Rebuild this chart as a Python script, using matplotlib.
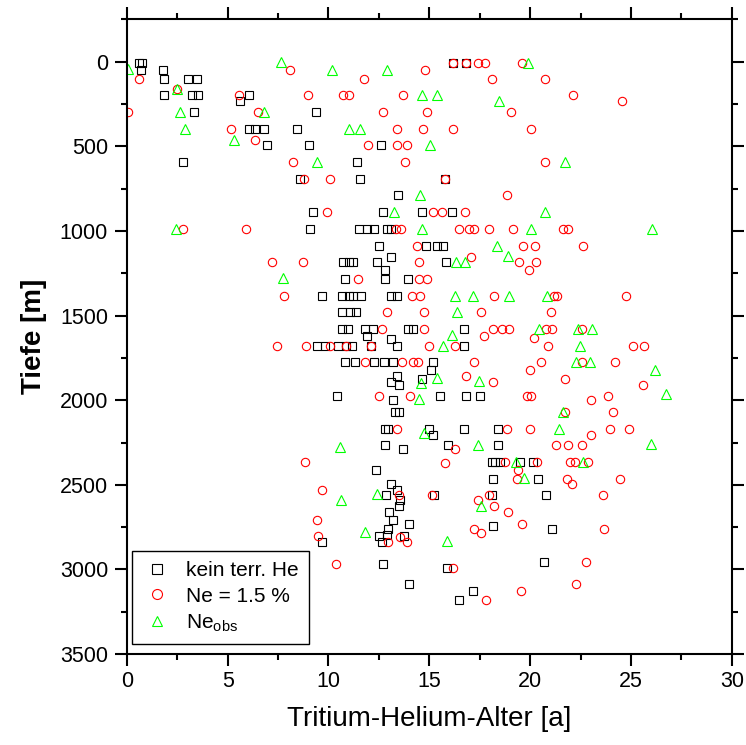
# -*- coding: utf-8 -*-
"""
Tritium-Helium-Alter über Tiefe, drei Auswerteansätze
"""
import matplotlib
matplotlib.use('Agg')
import matplotlib.pyplot as plt
from matplotlib.ticker import MultipleLocator

matplotlib.rcParams['font.family'] = ['Liberation Sans', 'DejaVu Sans']
matplotlib.rcParams['mathtext.fontset'] = 'custom'
matplotlib.rcParams['mathtext.rm'] = 'Liberation Sans'

# --- kein terrigenes He (Quadrate) ---
kein_alter = [
    0.61, 0.77, 0.69, 1.78, 1.83, 3.02, 3.50, 1.83, 3.22, 3.55, 3.34, 6.08,
    5.62, 9.39, 6.08, 6.36, 6.81, 8.44, 6.96, 9.05, 2.81, 8.61, 9.22, 9.09,
    16.16, 16.81, 12.59, 11.43, 11.55, 15.78, 13.45, 12.72, 14.66, 16.11,
    11.53, 11.90, 12.28, 12.89, 13.09,
    12.51, 14.84, 15.37, 15.70,
    10.74, 11.04, 11.24, 12.41, 13.11, 15.83, 12.81,
    10.82, 12.81, 13.93,
    9.67, 10.66, 11.04, 11.24, 11.60, 13.09, 13.42,
    10.66, 11.07, 11.37,
    10.66, 10.99, 11.81, 12.23, 13.96, 14.18, 16.72, 11.91, 13.11,
    9.42, 9.83, 10.49, 10.87, 11.15, 12.11, 13.39, 16.74,
    10.82, 11.32, 12.28, 12.73, 13.19, 15.20,
    13.42, 14.66, 15.09, 13.09, 13.52,
    10.40, 15.53, 16.81, 17.52, 13.19,
    13.30, 13.52,
    12.81, 12.97, 14.96, 16.74, 18.43, 15.20,
    12.81, 13.71, 15.95, 18.43,
    18.10, 18.26, 18.51, 19.50, 20.13,
    12.36, 18.18, 20.41,
    13.09, 13.39, 12.84, 13.55, 13.52, 13.02, 13.19, 14.01, 15.24, 18.10, 20.79,
    12.95, 12.92, 12.49, 12.65, 9.66, 13.75, 18.14, 21.07,
    12.69, 15.87, 14.01, 17.19, 16.48, 20.71,
]
kein_tiefe = [
    8, 8, 47, 47, 100, 100, 100, 199, 199, 199, 297, 199,
    230, 297, 396, 396, 396, 396, 494, 494, 592, 691, 888, 988,
    8, 8, 494, 592, 691, 691, 789, 888, 888, 888,
    988, 988, 988, 988, 988,
    1087, 1087, 1087, 1087,
    1185, 1185, 1185, 1185, 1156, 1185, 1233,
    1284, 1284, 1284,
    1382, 1382, 1382, 1382, 1382, 1382, 1382,
    1481, 1481, 1481,
    1579, 1579, 1579, 1579, 1579, 1579, 1579, 1618, 1638,
    1677, 1677, 1677, 1677, 1677, 1677, 1677, 1677,
    1776, 1776, 1776, 1776, 1776, 1776,
    1859, 1874, 1823, 1892, 1908,
    1973, 1973, 1973, 1973, 1997,
    2071, 2071,
    2170, 2170, 2170, 2170, 2170, 2203,
    2266, 2286, 2266, 2266,
    2364, 2364, 2364, 2364, 2364,
    2414, 2463, 2463,
    2493, 2532, 2562, 2591, 2626, 2660, 2709, 2729, 2560, 2562, 2562,
    2759, 2794, 2804, 2837, 2837, 2804, 2745, 2759,
    2967, 2991, 3085, 3129, 3179, 2955,
]

# --- Ne = 1.5 % (Kreise) ---
ne15_alter = [
    0.61, 0.08, 2.48, 5.55, 6.48, 5.16, 6.35, 8.10, 8.96, 8.25, 8.81, 10.06,
    9.93, 2.78, 5.92,
    16.16, 16.81, 17.43, 17.76, 19.60, 14.80, 11.77, 18.11, 10.74, 11.04,
    13.71, 12.72, 14.90, 19.04, 13.38, 14.67, 16.16, 20.03, 11.98, 13.42,
    13.88, 13.78, 18.87, 15.20, 15.62, 16.79, 15.78,
    20.72, 22.13, 24.56, 20.75,
    7.19, 8.74, 7.77, 7.47, 8.89, 10.08,
    13.35, 13.58, 16.46, 16.99, 17.22, 17.98, 19.14, 21.65, 21.86,
    14.41, 19.65, 20.25, 22.64,
    14.51, 17.05, 19.47, 20.30, 19.94,
    11.45, 14.49, 14.87,
    14.16, 14.54, 18.21, 21.20, 21.35, 24.76,
    12.92, 14.76, 17.57, 21.04,
    12.66, 14.76, 18.14, 18.59, 18.97, 17.72, 20.20, 20.77, 21.10, 22.56,
    12.11, 14.99, 16.28, 10.87, 20.90, 25.11, 25.66,
    11.82, 13.63, 14.21, 14.43, 17.22, 20.00, 20.54, 22.56, 24.21,
    16.81, 18.18, 21.73, 25.62,
    12.52, 14.05, 19.85, 20.05, 23.00, 23.85,
    24.13, 21.72,
    13.39, 18.87, 19.98, 23.02, 23.96, 24.91,
    16.28, 21.27, 21.90, 22.59,
    15.80, 18.73, 20.33, 22.00, 22.23, 22.85, 8.86,
    19.42, 19.34, 21.81, 22.06, 24.47,
    9.70, 13.52, 15.12, 17.40, 17.98, 18.23, 18.89, 19.62, 23.62,
    9.44, 9.49, 10.35,
    12.96, 13.57, 13.91, 17.24, 17.55, 23.67,
    16.17, 17.83, 19.55, 22.76, 22.29,
]
ne15_tiefe = [
    100, 297, 160, 199, 297, 396, 461, 51, 199, 592, 691, 691,
    888, 988, 988,
    8, 8, 8, 8, 8, 47, 100, 100, 199, 199,
    199, 297, 297, 297, 396, 396, 396, 396, 494, 494,
    494, 592, 789, 888, 888, 888, 691,
    100, 199, 230, 592,
    1185, 1185, 1382, 1677, 1677, 1677,
    988, 988, 988, 988, 988, 988, 988, 988, 988,
    1087, 1087, 1087, 1087,
    1185, 1156, 1185, 1185, 1233,
    1284, 1284, 1284,
    1382, 1382, 1382, 1382, 1382, 1382,
    1481, 1481, 1481, 1481,
    1579, 1579, 1579, 1579, 1579, 1618, 1635, 1579, 1579, 1579,
    1677, 1677, 1677, 1677, 1677, 1677, 1677,
    1776, 1776, 1776, 1776, 1776, 1823, 1776, 1776, 1776,
    1856, 1892, 1872, 1908,
    1973, 1973, 1973, 1973, 1997, 1973,
    2071, 2071,
    2170, 2170, 2170, 2203, 2170, 2170,
    2286, 2266, 2266, 2266,
    2372, 2364, 2364, 2364, 2364, 2364, 2364,
    2414, 2463, 2463, 2493, 2463,
    2532, 2562, 2560, 2591, 2562, 2625, 2660, 2729, 2562,
    2707, 2804, 2967,
    2837, 2808, 2837, 2759, 2784, 2759,
    2991, 3179, 3129, 2955, 3085,
]

# --- Ne beobachtet (Dreiecke) ---
neobs_alter = [
    0.08, 2.48, 2.66, 2.89, 5.29, 6.81, 7.64, 10.18, 9.44, 2.44,
    12.89, 19.90, 14.66, 15.37, 18.46, 11.01, 11.57, 15.05, 14.56, 13.25,
    21.73, 20.74, 7.75,
    14.66, 20.05, 26.03, 18.34,
    16.33, 16.77, 18.89,
    16.28, 17.15, 18.97, 20.82, 16.36,
    16.11, 20.44, 22.36, 23.09,
    15.70, 22.48,
    22.26, 22.99, 26.19,
    14.61, 15.37, 17.46,
    14.50, 26.72, 21.65,
    14.76, 21.45,
    10.57, 17.39, 26.00,
    19.28, 22.61, 19.70,
    12.43, 10.61, 17.55,
    11.82, 15.87,
]
neobs_tiefe = [
    43, 160, 297, 396, 461, 297, 3, 47, 592, 988,
    47, 8, 199, 199, 230, 396, 396, 494, 789, 888,
    592, 888, 1280,
    988, 988, 988, 1087,
    1185, 1185, 1146,
    1382, 1382, 1382, 1382, 1481,
    1612, 1579, 1579, 1579,
    1677, 1677,
    1776, 1776, 1819,
    1900, 1870, 1886,
    1991, 1965, 2071,
    2196, 2170,
    2278, 2266, 2258,
    2364, 2364, 2459,
    2552, 2587, 2623,
    2780, 2833,
]

fig = plt.figure(figsize=(7.46, 7.45), dpi=100)
ax = fig.add_axes([0.170, 0.122, 0.811, 0.852])

ax.plot(kein_alter, kein_tiefe, linestyle='none', marker='s', ms=5.6,
        mfc='none', mec='black', mew=0.8, label='kein terr. He')
ax.plot(ne15_alter, ne15_tiefe, linestyle='none', marker='o', ms=6.0,
        mfc='none', mec='#ff0000', mew=0.8, label='Ne = 1.5 %')
ax.plot(neobs_alter, neobs_tiefe, linestyle='none', marker='^', ms=6.5,
        mfc='none', mec='#00ff00', mew=0.8, label=r'Ne$_{\mathregular{obs}}$')

ax.set_xlim(0, 30)
ax.set_ylim(3500, -250)
ax.xaxis.set_major_locator(MultipleLocator(5))
ax.xaxis.set_minor_locator(MultipleLocator(2.5))
ax.yaxis.set_major_locator(MultipleLocator(500))
ax.yaxis.set_minor_locator(MultipleLocator(250))

ax.tick_params(which='both', direction='out', top=True, right=True, width=1.5)
ax.tick_params(which='major', length=8.5, labelsize=15.5)
ax.tick_params(axis='y', which='major', pad=5)
ax.tick_params(axis='x', which='major', pad=4)
ax.tick_params(which='minor', length=4.3)
for sp in ax.spines.values():
    sp.set_linewidth(1.5)

ax.set_xlabel('Tritium-Helium-Alter [a]', fontsize=20)
ax.set_ylabel('Tiefe [m]', fontsize=20, fontweight='bold')
ax.xaxis.set_label_coords(0.5, -0.082)
ax.yaxis.set_label_coords(-0.132, 0.5)

leg = ax.legend(loc='lower left', bbox_to_anchor=(0.009, 0.016), borderaxespad=0,
                fontsize=15, numpoints=1, markerscale=1.2, handlelength=1.4,
                handletextpad=0.7, labelspacing=0.3, borderpad=0.5,
                fancybox=False, framealpha=1)
leg.get_frame().set_edgecolor('black')
leg.get_frame().set_linewidth(1.0)

plt.savefig('out.png', dpi=100)
plt.close()
